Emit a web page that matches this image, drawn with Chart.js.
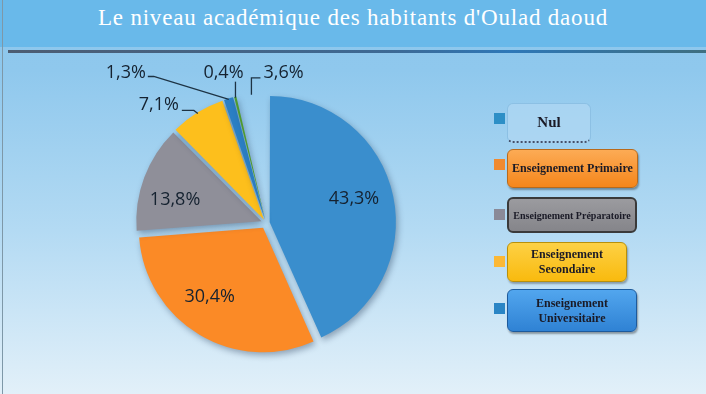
<!DOCTYPE html>
<html><head><meta charset="utf-8">
<script src="https://cdn.jsdelivr.net/npm/chart.js@4/dist/chart.umd.min.js"></script>
<style>
html,body{margin:0;padding:0;}
body{width:706px;height:394px;position:relative;overflow:hidden;background:linear-gradient(to bottom,#8cc6ec 0px,#8fc8ed 70px,#b3daf3 230px,#e2f0f9 394px);}
#titlebar{position:absolute;left:0;top:0;width:706px;height:47px;background:#69b9ea;}
#title{position:absolute;left:0;top:5px;width:706px;text-align:center;font-family:"Liberation Serif",serif;font-size:23px;color:#fff;letter-spacing:0.8px;}
#rule{position:absolute;left:8px;top:50px;width:698px;height:3px;background:linear-gradient(to right,#4d5d72,#3d6a95 55%,#2e78b8 72%,#3f6f80);}
#edge{position:absolute;left:2px;top:0;width:1px;height:394px;background:#7e98a8;}
#wrap{position:absolute;left:0;top:0;width:706px;height:394px;}
.sq{position:absolute;left:494px;width:11px;height:11px;}
.bx{position:absolute;left:507px;box-sizing:border-box;border-radius:6px;display:flex;align-items:center;justify-content:center;text-align:center;font-family:"Liberation Serif",serif;font-weight:bold;color:#1a1a26;line-height:15px;}
</style></head>
<body>
<div id="titlebar"></div>
<div id="title">Le niveau académique des habitants d'Oulad daoud</div>
<div id="rule"></div>
<div id="edge"></div>
<div id="wrap"><canvas id="c" width="706" height="394"></canvas></div>
<div id="legend"></div>
<script>
const categories = ['Nul','Enseignement Primaire','Enseignement Préparatoire','Enseignement Secondaire','Enseignement Universitaire','',''];
const values = [43.3, 30.4, 13.8, 7.1, 1.3, 0.4, 3.6];
const valueLabels = ['43,3%','30,4%','13,8%','7,1%','1,3%','0,4%','3,6%'];
const legendEntries = ['Nul','Enseignement Primaire','Enseignement Préparatoire','Enseignement<br>Secondaire','Enseignement<br>Universitaire'];

const sliceColors = ['#3a8ecd','#fb8a26','#8f8f99','#fdbf1c','#2b7fc4','#4f9a2e','rgba(0,0,0,0)'];
const legendSquares = ['#2d8fc6','#f08a30','#8a8a98','#fbb836','#2a85c5'];
const legendBoxes = [
  {top:103,w:84,h:40,fs:15,style:'background:rgba(175,215,243,0.75);border:1px solid #8cc0e4;border-bottom:2px dotted #44506a;'},
  {top:149,w:131,h:39,fs:12,style:'background:linear-gradient(#fcab55,#f5861b);border:1px solid #b86a1c;box-shadow:1px 2px 2px rgba(0,0,0,0.35);'},
  {top:197,w:130,h:36,fs:10,style:'background:linear-gradient(#9b9b9f,#85858a);border:2px solid #3a3a3a;'},
  {top:242,w:120,h:40,fs:12,style:'background:linear-gradient(#fdd145,#f9ba0e);border:1px solid #b8900a;box-shadow:1px 2px 2px rgba(0,0,0,0.3);'},
  {top:289,w:130,h:43,fs:12,style:'background:linear-gradient(#52a6ee,#2f82d4);border:1px solid #1d5a9c;box-shadow:1px 2px 2px rgba(0,0,0,0.35);'}
];
const sqTops = [113,159,209,256,303];

const lg = document.getElementById('legend');
legendEntries.forEach((t,i)=>{
  const b = legendBoxes[i];
  lg.insertAdjacentHTML('beforeend',
    `<div class="sq" style="top:${sqTops[i]}px;background:${legendSquares[i]}"></div>`+
    `<div class="bx" style="top:${b.top}px;width:${b.w}px;height:${b.h}px;font-size:${b.fs}px;${b.style}">${t}</div>`);
});

// explode distance in px -> Chart.js arc offset (ArcElement translates by offset/4*(1+fix))
const explodePx = 6;
const total = values.reduce((a,b)=>a+b,0);
const sliceOffsets = values.map(v=>{
  const c = v/total*2*Math.PI;
  return explodePx*4/(2-Math.sin(Math.min(Math.PI,c)));
});
function shiftOf(arc){
  const off = arc.options.offset||0;
  const fix = 1-Math.sin(Math.min(Math.PI, arc.circumference||0));
  return off/4*(1+fix);
}

const labelCfg = [
  {inside:0.687, nudge:-3.4},
  {inside:0.70, nudge:7.0},
  {inside:0.709, nudge:-6.5},
  {gap:-1, path:[[-4,-3],[-12,0]], align:'right', text:[-3,-6]},
  {gap:-1, path:[[-75,-23],[-6,0]], align:'right', text:[-2,-4]},
  {gap:-1, path:[[0,-16]], align:'center', text:[-12,-9]},
  {gap:-1, path:[[0,-17],[9,0]], align:'left', text:[3,-5]}
];

const piePlugin = {
  id:'pieDeco',
  beforeDatasetsDraw(chart){
    const ctx=chart.ctx;
    ctx.save();
    ctx.shadowColor='rgba(10,30,60,0.35)';
    ctx.shadowBlur=6; ctx.shadowOffsetX=2; ctx.shadowOffsetY=3;
  },
  afterDatasetsDraw(chart){
    const ctx=chart.ctx;
    ctx.restore();
    const meta=chart.getDatasetMeta(0);
    ctx.save();
    ctx.font='18px "Open Sans"';
    ctx.fillStyle='#152230'; ctx.strokeStyle='#1d3344'; ctx.lineWidth=1.3;
    meta.data.forEach((arc,i)=>{
      const p=arc.getProps(['x','y','startAngle','endAngle','outerRadius'],true);
      const cfg=labelCfg[i];
      const half=(p.startAngle+p.endAngle)/2;
      const s=shiftOf(arc);
      const cx=p.x+Math.cos(half)*s, cy=p.y+Math.sin(half)*s;
      const mid=half+(cfg.nudge||0)*Math.PI/180;
      if(cfg.inside){
        const r=p.outerRadius*cfg.inside;
        ctx.textAlign='center'; ctx.textBaseline='middle';
        ctx.fillText(valueLabels[i], cx+Math.cos(mid)*r, cy+Math.sin(mid)*r);
      } else {
        const r=p.outerRadius+cfg.gap;
        let x=cx+Math.cos(mid)*r, y=cy+Math.sin(mid)*r;
        ctx.beginPath(); ctx.moveTo(x,y);
        cfg.path.forEach(([dx,dy])=>{x+=dx;y+=dy;ctx.lineTo(x,y);});
        ctx.stroke();
        ctx.textAlign=cfg.align; ctx.textBaseline='middle';
        ctx.fillText(valueLabels[i], x+cfg.text[0], y+cfg.text[1]);
      }
    });
    ctx.restore();
  }
};

new Chart(document.getElementById('c'),{
  type:'pie',
  data:{labels:categories,datasets:[{data:values,backgroundColor:sliceColors,borderWidth:0,offset:sliceOffsets,hoverOffset:0}]},
  options:{
    responsive:false,animation:false,radius:124,
    layout:{padding:{left:0,right:174,top:52,bottom:0}},
    plugins:{legend:{display:false},tooltip:{enabled:false}}
  },
  plugins:[piePlugin]
});
</script>
</body></html>
